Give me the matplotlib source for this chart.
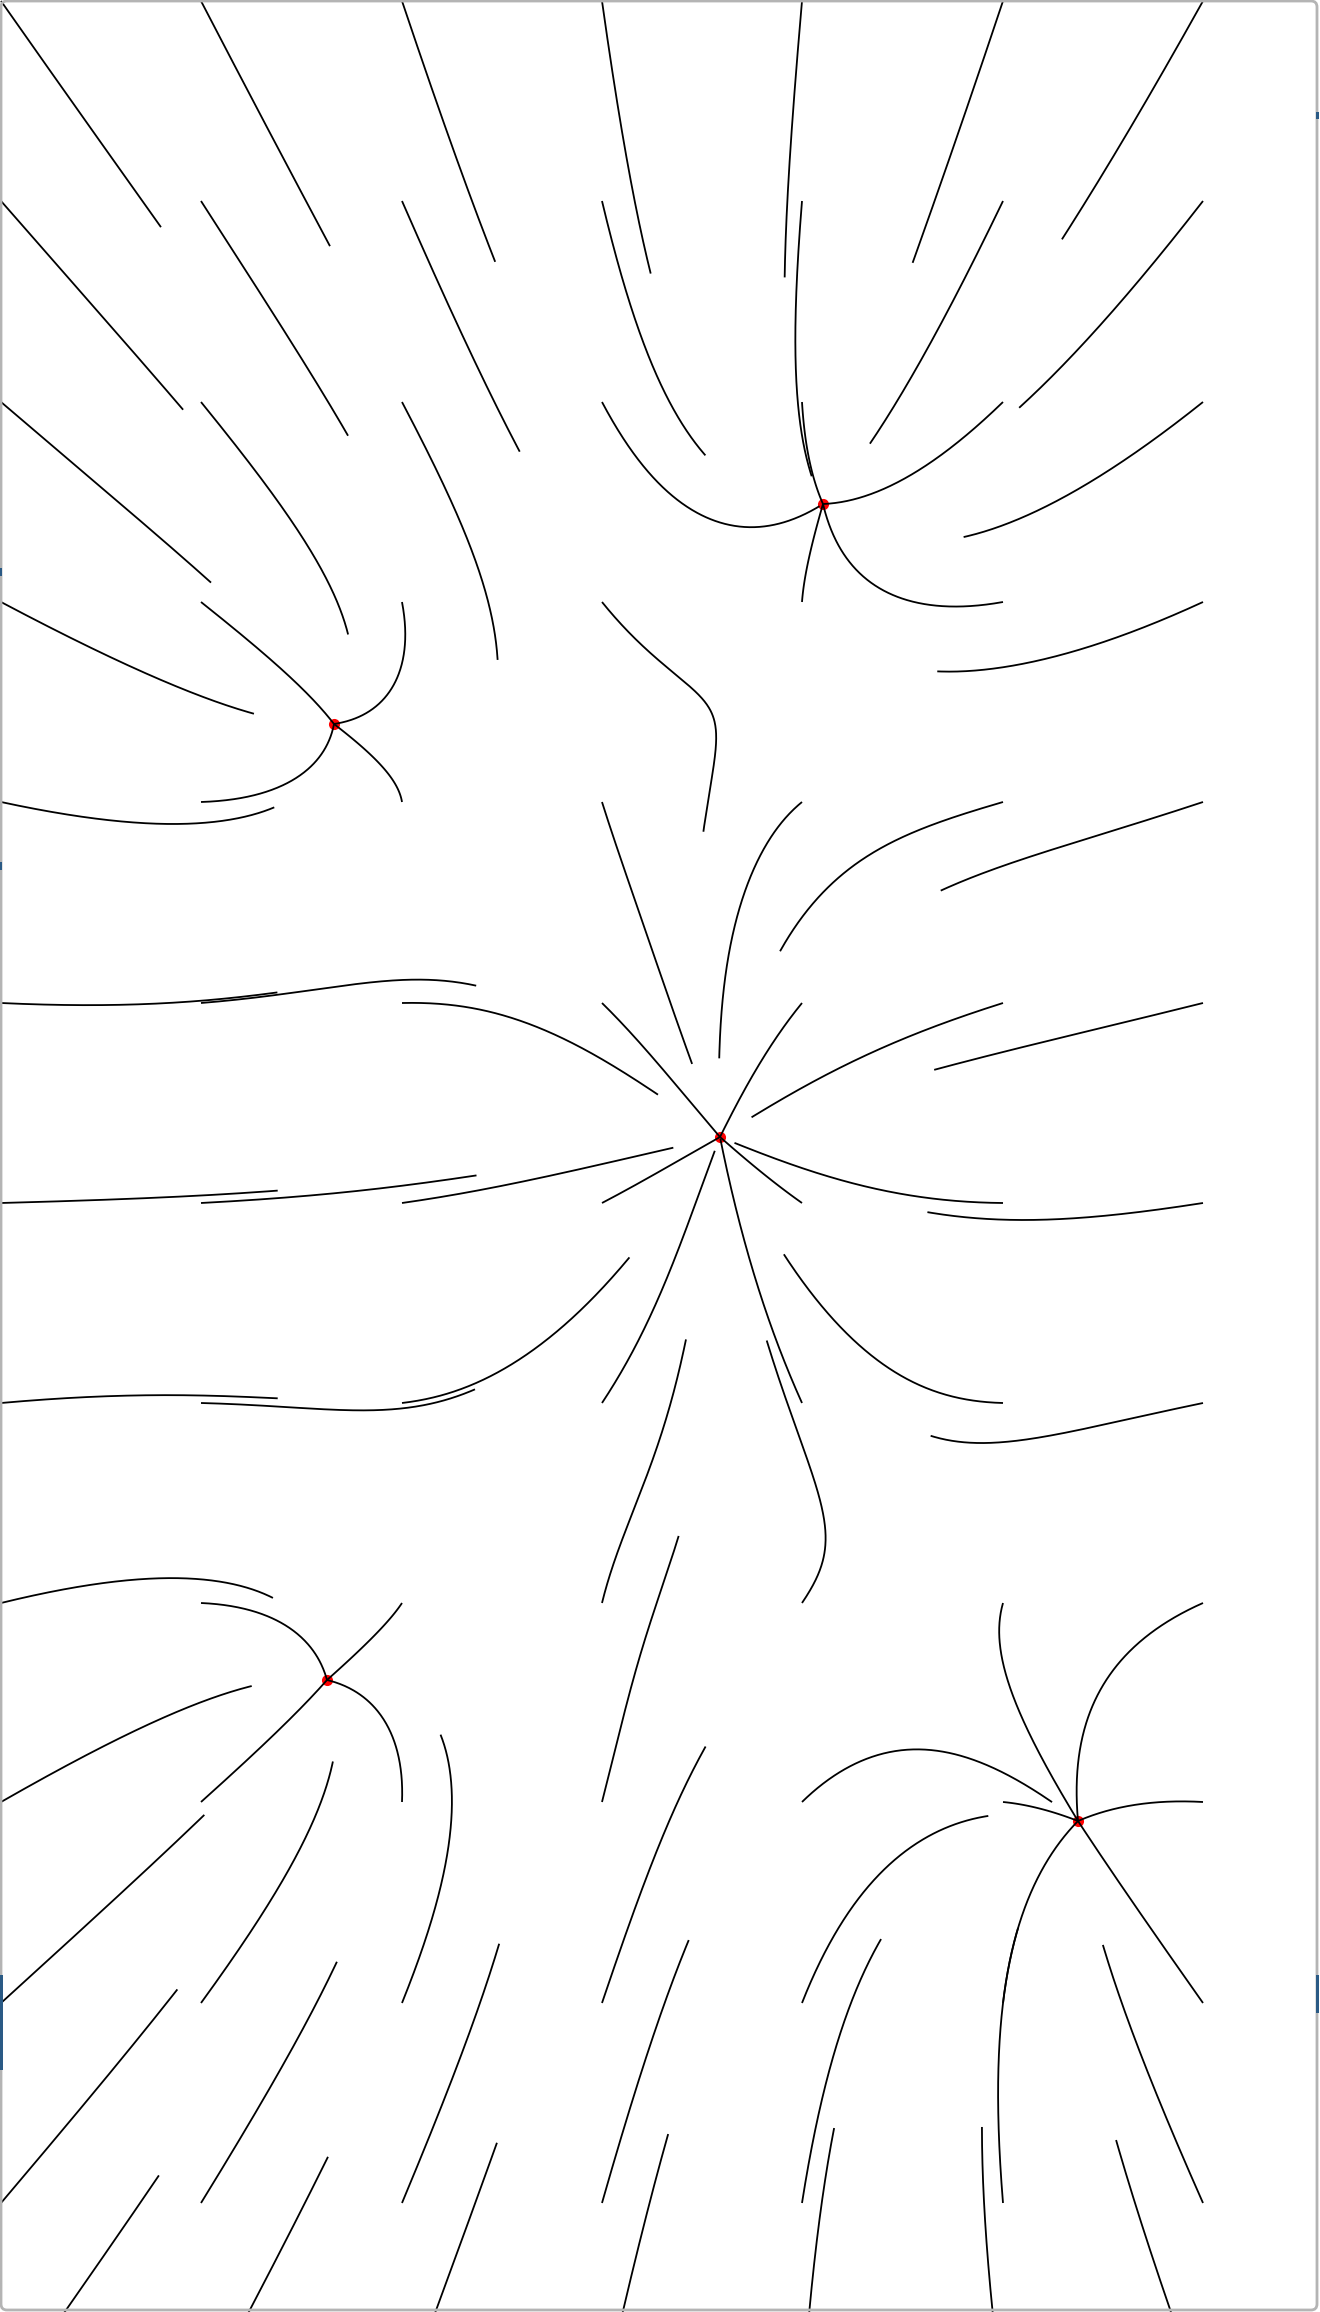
import numpy as np
import matplotlib
matplotlib.use("Agg")
import matplotlib.pyplot as plt
from matplotlib.patches import Rectangle, FancyBboxPatch

# sinks (attractors), in pixel coords of the 1320x2312 canvas, y downwards
sink_x = [334, 823, 720, 327, 1078]
sink_y = [724, 504, 1137, 1680, 1821]
sink_w = [1.0, 1.484, 1.736, 1.060, 2.038]

# seed grid the streamlines start from
seed_x = [1, 201, 402, 602, 802, 1003, 1203]
seed_y = [1, 201, 402, 602, 802, 1003, 1203, 1403, 1603, 1802, 2003, 2203, 2403]

line_len = 277     # arc length of each streamline (px)
power = 2.0        # falloff of the pull of every sink

W, H = 1320, 2312

sx = np.array(sink_x, float)
sy = np.array(sink_y, float)
sw = np.array(sink_w, float)


def field(p):
    dx = sx - p[0]
    dy = sy - p[1]
    r = np.hypot(dx, dy) + 1e-9
    f = sw / r**power
    v = np.array([np.sum(f * dx), np.sum(f * dy)])
    n = np.hypot(v[0], v[1])
    return v / n if n > 0 else v


def trace(x0, y0, step=1.0):
    p = np.array([x0, y0], float)
    pts = [p.copy()]
    s = 0.0
    while s < line_len:
        d = np.hypot(sx - p[0], sy - p[1])
        k = np.argmin(d)
        if d[k] < 2.0:
            pts.append(np.array([sx[k], sy[k]]))
            break
        k1 = field(p)
        k2 = field(p + 0.5 * step * k1)
        p = p + step * k2
        pts.append(p.copy())
        s += step
    return np.array(pts)


fig = plt.figure(figsize=(W / 100, H / 100), dpi=100)
ax = fig.add_axes([0, 0, 1, 1])
ax.set_xlim(0, W)
ax.set_ylim(H, 0)
ax.axis("off")

for y0 in seed_y:
    for x0 in seed_x:
        pts = trace(x0, y0)
        ax.plot(pts[:, 0], pts[:, 1], color="black", lw=1.3, zorder=3,
                solid_capstyle="butt")

ax.plot(sx, sy, "o", color="red", markersize=8, markeredgewidth=0, zorder=2)

# screenshot frame
ax.add_patch(FancyBboxPatch((1, 1), 1316, 2309, boxstyle="round,pad=0,rounding_size=6",
                            fill=False, edgecolor="#b4b4b4", lw=2, zorder=5, clip_on=False))
# small blue marks on the edges
for (x, y, w, h) in [(0, 568, 2, 8), (0, 862, 2, 8), (0, 1975, 3, 95),
                     (1316, 112, 3, 7), (1316, 1975, 3, 38)]:
    ax.add_patch(Rectangle((x, y), w, h, color="#2a5a85", lw=0, zorder=6))

fig.savefig("out.png", dpi=100)
